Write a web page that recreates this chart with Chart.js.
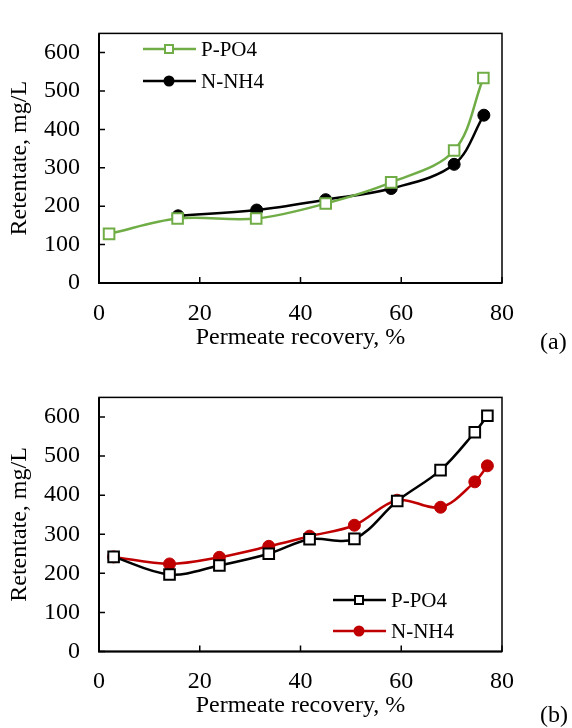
<!DOCTYPE html>
<html>
<head>
<meta charset="utf-8">
<script src="https://cdn.jsdelivr.net/npm/chart.js@4"></script>
<style>
  body { margin: 0; background: #fff; }
  .wrap { position: absolute; left: 0; width: 572px; height: 364px; }
</style>
</head>
<body>
<div class="wrap" style="top:0"><canvas id="chartA" width="572" height="364"></canvas></div>
<div class="wrap" style="top:364px"><canvas id="chartB" width="572" height="364"></canvas></div>
<script>
// (a) recovery vs retentate
var aPhosX = [2, 15.6, 31.2, 45, 58, 70.5, 76.3];
var aPhosY = [128, 168, 168, 207, 262, 345, 534];
var aAmmX = [15.7, 31.3, 45, 58, 70.5, 76.4];
var aAmmY = [175, 190, 217, 246, 309, 437];

// (b)
var bRecovery = [2.9, 14, 23.9, 33.7, 41.8, 50.7, 59.2, 67.8, 74.6, 77.1];
var bPhosY = [242, 197, 220, 250, 287, 288, 385, 464, 561, 603];
var bAmmY = [242, 224, 241, 269, 295, 323, 387, 369, 434, 475];

var seriesNames = ['P-PO4', 'N-NH4'];
var xTicks = [0, 20, 40, 60, 80];
var yTicks = [0, 100, 200, 300, 400, 500, 600];

var FONT = "'Liberation Serif', 'Times New Roman', serif";

function pts(xs, ys) {
  var out = [];
  for (var i = 0; i < xs.length; i++) out.push({ x: xs[i], y: ys[i] });
  return out;
}

function drawMarker(ctx, style, x, y, r, fill, stroke) {
  ctx.save();
  ctx.lineWidth = 2;
  ctx.fillStyle = fill;
  ctx.strokeStyle = stroke;
  ctx.beginPath();
  if (style === 'rect') {
    ctx.rect(x - r, y - r, 2 * r, 2 * r);
  } else {
    ctx.arc(x, y, r, 0, Math.PI * 2);
  }
  ctx.fill();
  ctx.stroke();
  ctx.restore();
}

// frame, inward tick marks, inner legend and panel label
var framePlugin = {
  id: 'frame',
  beforeDatasetsDraw: function(chart) {
    var ctx = chart.ctx, a = chart.chartArea;
    var xs = chart.scales.x, ys = chart.scales.y;
    ctx.save();
    ctx.strokeStyle = '#000';
    ctx.lineWidth = 1.5;
    ctx.strokeRect(a.left, a.top, a.right - a.left, a.bottom - a.top);
    ctx.lineWidth = 2;
    ctx.beginPath();
    ctx.moveTo(a.left, a.top);
    ctx.lineTo(a.left, a.bottom);
    ctx.lineTo(a.right, a.bottom);
    ctx.stroke();
    ctx.lineWidth = 1.5;
    ctx.beginPath();
    yTicks.forEach(function(v) {
      var py = ys.getPixelForValue(v);
      ctx.moveTo(a.left, py);
      ctx.lineTo(a.left + 6, py);
    });
    xTicks.forEach(function(v) {
      var px = xs.getPixelForValue(v);
      ctx.moveTo(px, a.bottom);
      ctx.lineTo(px, a.bottom - 6);
    });
    ctx.stroke();
    ctx.restore();
  },
  afterDraw: function(chart) {
    var o = chart.options.plugins.frame;
    var ctx = chart.ctx;
    ctx.save();
    chart.data.datasets.forEach(function(ds, i) {
      var y = o.legendY + i * o.legendGap;
      ctx.strokeStyle = ds.borderColor;
      ctx.lineWidth = 2.5;
      ctx.beginPath();
      ctx.moveTo(o.legendX, y);
      ctx.lineTo(o.legendX + 53, y);
      ctx.stroke();
      drawMarker(ctx, ds.pointStyle, o.legendX + 26, y, ds.pointStyle === 'rect' ? 4 : 4.5,
        ds.pointBackgroundColor, ds.pointBorderColor);
      ctx.fillStyle = '#000';
      ctx.font = '21px ' + FONT;
      ctx.textBaseline = 'middle';
      ctx.textAlign = 'left';
      ctx.fillText(ds.label, o.legendX + 58, y + 1);
    });
    ctx.font = '24px ' + FONT;
    ctx.textAlign = 'left';
    ctx.fillText(o.tag, 540, o.tagY);
    ctx.restore();
  }
};

function makeChart(id, datasets, opts) {
  return new Chart(document.getElementById(id).getContext('2d'), {
    type: 'scatter',
    data: { datasets: datasets },
    plugins: [framePlugin],
    options: {
      responsive: false,
      animation: false,
      layout: { padding: { top: opts.top, right: 70, bottom: opts.bottom, left: 0 } },
      plugins: {
        legend: { display: false },
        tooltip: { enabled: false },
        frame: opts.frame
      },
      scales: {
        x: {
          type: 'linear', min: 0, max: 80,
          grid: { display: false, drawTicks: false },
          border: { display: false },
          ticks: { stepSize: 20, padding: 16, color: '#000', font: { family: FONT, size: 24 } },
          title: { display: true, text: 'Permeate recovery, %', color: '#000',
                   font: { family: FONT, size: 24 }, padding: { top: 0, bottom: 5 } },
          afterFit: function(s) { s.height = 74; }
        },
        y: {
          min: 0, max: 650,
          grid: { display: false, drawTicks: false },
          border: { display: false },
          ticks: { stepSize: 100, includeBounds: false, padding: 19, color: '#000',
                   font: { family: FONT, size: 24 } },
          title: { display: true, text: 'Retentate, mg/L', color: '#000',
                   font: { family: FONT, size: 24 }, padding: { top: 5, bottom: 0 } },
          afterFit: function(s) { s.width = 99; }
        }
      }
    }
  });
}

makeChart('chartA', [
  {
    label: seriesNames[0], data: pts(aPhosX, aPhosY), showLine: true, tension: 0.35,
    borderColor: '#70AD47', borderWidth: 2.5,
    pointStyle: 'rect', pointRadius: 7.5, pointBorderWidth: 2,
    pointBackgroundColor: '#fff', pointBorderColor: '#70AD47'
  },
  {
    label: seriesNames[1], data: pts(aAmmX, aAmmY), showLine: true, tension: 0.35,
    borderColor: '#000', borderWidth: 2.5,
    pointStyle: 'circle', pointRadius: 6, pointBorderWidth: 1,
    pointBackgroundColor: '#000', pointBorderColor: '#000'
  }
], { top: 14, bottom: 7, frame: { legendX: 143, legendY: 49, legendGap: 32, tag: '(a)', tagY: 343 } });

makeChart('chartB', [
  {
    label: seriesNames[0], data: pts(bRecovery, bPhosY), showLine: true, tension: 0.35,
    borderColor: '#000', borderWidth: 2.5,
    pointStyle: 'rect', pointRadius: 7.5, pointBorderWidth: 2,
    pointBackgroundColor: '#fff', pointBorderColor: '#000'
  },
  {
    label: seriesNames[1], data: pts(bRecovery, bAmmY), showLine: true, tension: 0.35,
    borderColor: '#C00000', borderWidth: 2.5,
    pointStyle: 'circle', pointRadius: 6, pointBorderWidth: 1,
    pointBackgroundColor: '#C00000', pointBorderColor: '#C00000'
  }
], { top: 27.5, bottom: 2.5, frame: { legendX: 333, legendY: 236, legendGap: 31, tag: '(b)', tagY: 352 } });
</script>
</body>
</html>
